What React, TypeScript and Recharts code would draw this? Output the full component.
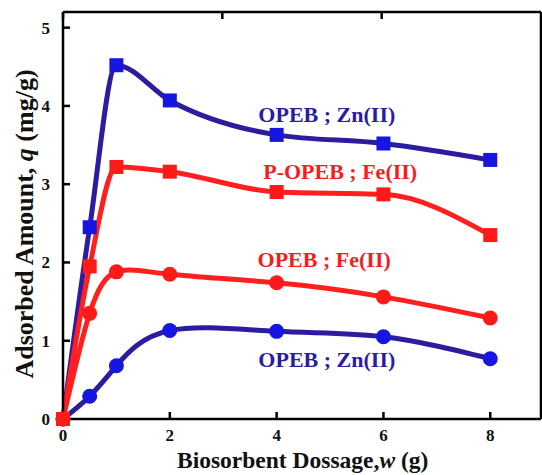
import React from 'react';
import { LineChart, Line, XAxis, YAxis, ReferenceDot } from 'recharts';

const dosage = [0, 0.5, 1, 2, 4, 6, 8];
const znSquares = [0, 2.45, 4.52, 4.07, 3.63, 3.52, 3.31];
const feSquares = [0, 1.95, 3.22, 3.16, 2.9, 2.87, 2.35];
const feCircles = [0, 1.35, 1.88, 1.85, 1.74, 1.56, 1.29];
const znCircles = [0, 0.29, 0.68, 1.13, 1.12, 1.05, 0.77];
const xTicks = [0, 2, 4, 6, 8];
const yTicks = [0, 1, 2, 3, 4, 5];
const seriesLabels = [
  { text: 'OPEB ; Zn(II)', x: 4.94, y: 3.9, color: '#2b1ca0' },
  { text: 'P-OPEB ; Fe(II)', x: 5.19, y: 3.16, color: '#f51d1d' },
  { text: 'OPEB ; Fe(II)', x: 4.89, y: 2.04, color: '#f51d1d' },
  { text: 'OPEB ; Zn(II)', x: 4.94, y: 0.77, color: '#2b1ca0' },
];

const data = dosage.map((w, i) => ({
  w,
  znSq: znSquares[i],
  feSq: feSquares[i],
  feCi: feCircles[i],
  znCi: znCircles[i],
}));

const FONT = '"Liberation Serif", "Times New Roman", serif';
const BLUE_LINE = '#2b1ca0';
const BLUE_MARK = '#1616e0';
const RED_LINE = '#ff1f1f';
const RED_MARK = '#ff1a1a';

const squareDot = (color: string) => (props: any) => {
  const { cx, cy, index } = props;
  if (cx == null || cy == null) return <g key={index} />;
  return <rect key={index} x={cx - 7} y={cy - 7} width={14} height={14} fill={color} />;
};
const circleDot = (color: string) => (props: any) => {
  const { cx, cy, index } = props;
  if (cx == null || cy == null) return <g key={index} />;
  return <circle key={index} cx={cx} cy={cy} r={7.5} fill={color} />;
};

const tickStyle = { fontFamily: FONT, fontSize: 17, fontWeight: 'bold', fill: '#111' };

const XTitle = () => (
  <text x={177} y={468} textAnchor="start" fontFamily={FONT} fontSize={23.5} fontWeight="bold" fill="#111">
    <tspan>Biosorbent Dossage,</tspan>
    <tspan fontStyle="italic">w</tspan>
    <tspan> (g)</tspan>
  </text>
);

const YTitle = () => {
  const x = 33;
  const y = 224;
  return (
    <text x={x} y={y} transform={`rotate(-90 ${x} ${y})`} textAnchor="middle" fontFamily={FONT} fontSize={26} fontWeight="bold" fill="#111">
      <tspan>Adsorbed Amount, </tspan>
      <tspan fontStyle="italic">q</tspan>
      <tspan> (mg/g)</tspan>
    </text>
  );
};

export default function App() {
  return (
    <div style={{ position: 'absolute', left: 0, top: 0, width: 542, height: 475, background: '#fff' }}>
      <LineChart width={542} height={475} data={data} margin={{ top: 2, right: 0, bottom: 0, left: 0 }}>
        <XAxis
          dataKey="w"
          type="number"
          domain={[0, 8.95]}
          ticks={xTicks}
          height={56}
          axisLine={{ stroke: '#000', strokeWidth: 2.5 }}
          tickLine={{ stroke: '#000', strokeWidth: 2.5 }}
          tickSize={-7}
          tickMargin={17}
          tick={tickStyle}
          label={<XTitle />}
        />
        <XAxis
          xAxisId="top"
          orientation="top"
          type="number"
          domain={[0, 8.95]}
          ticks={xTicks}
          height={10}
          axisLine={{ stroke: '#000', strokeWidth: 2.5 }}
          tickLine={{ stroke: '#000', strokeWidth: 2.5 }}
          tickSize={-7}
          tickFormatter={() => ''}
        />
        <YAxis
          type="number"
          domain={[0, 5.2]}
          ticks={yTicks}
          width={63}
          axisLine={{ stroke: '#000', strokeWidth: 2.5 }}
          tickLine={{ stroke: '#000', strokeWidth: 2.5 }}
          tickSize={-7}
          tickMargin={20}
          tick={tickStyle}
          label={<YTitle />}
        />
        <YAxis
          yAxisId="right"
          orientation="right"
          type="number"
          domain={[0, 5.2]}
          ticks={yTicks}
          width={1}
          axisLine={{ stroke: '#000', strokeWidth: 2.5 }}
          tickLine={{ stroke: '#000', strokeWidth: 2.5 }}
          tickSize={-7}
          tickFormatter={() => ''}
        />
        <Line dataKey="znCi" type="natural" stroke={BLUE_LINE} strokeWidth={5} dot={circleDot(BLUE_MARK)} isAnimationActive={false} />
        <Line dataKey="znSq" type="monotone" stroke={BLUE_LINE} strokeWidth={5} dot={squareDot(BLUE_MARK)} isAnimationActive={false} />
        <Line dataKey="feCi" type="natural" stroke={RED_LINE} strokeWidth={5} dot={circleDot(RED_MARK)} isAnimationActive={false} />
        <Line dataKey="feSq" type="monotone" stroke={RED_LINE} strokeWidth={5} dot={squareDot(RED_MARK)} isAnimationActive={false} />
        {seriesLabels.map((l, i) => (
          <ReferenceDot
            key={i}
            x={l.x}
            y={l.y}
            r={0}
            fill="none"
            stroke="none"
            label={{ value: l.text, position: 'center', fill: l.color, fontSize: 22, fontWeight: 'bold', fontFamily: FONT }}
          />
        ))}
      </LineChart>
    </div>
  );
}
